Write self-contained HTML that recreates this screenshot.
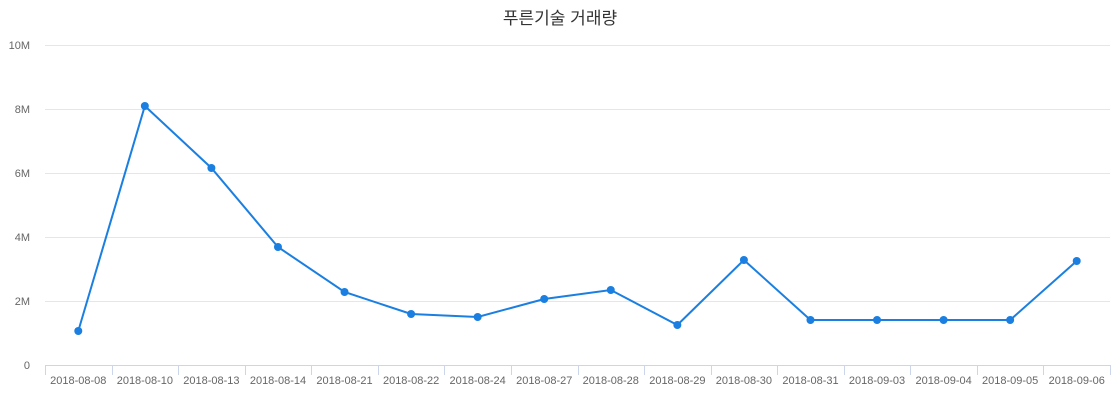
<!DOCTYPE html>
<html><head><meta charset="utf-8"><style>
body{margin:0;background:#fff;}
svg text{font-family:"Liberation Sans","Noto Sans CJK KR",sans-serif;}
</style></head><body>
<svg width="1120" height="400" xmlns="http://www.w3.org/2000/svg">
<text x="560" y="24" text-anchor="middle" font-size="17" fill="#333">푸른기술 거래량</text>
<g stroke="#e6e6e6" stroke-width="1">
<line x1="45" y1="45.5" x2="1110" y2="45.5"/>
<line x1="45" y1="109.5" x2="1110" y2="109.5"/>
<line x1="45" y1="173.5" x2="1110" y2="173.5"/>
<line x1="45" y1="237.5" x2="1110" y2="237.5"/>
<line x1="45" y1="301.5" x2="1110" y2="301.5"/>
</g>
<g font-size="11" fill="#666" text-anchor="end">
<text x="30" y="49">10M</text><text x="30" y="113">8M</text><text x="30" y="177">6M</text>
<text x="30" y="241">4M</text><text x="30" y="305">2M</text><text x="30" y="369">0</text>
</g>
<line x1="45" y1="365.5" x2="1110" y2="365.5" stroke="#ccd6eb"/>
<g id="ticks" stroke="#ccd6eb"></g>
<g id="labels" font-size="11" fill="#666" text-anchor="middle"></g>
<polyline id="ln" fill="none" stroke="#1a7fe0" stroke-width="2"/>
<g id="pts" fill="#1a7fe0"></g>
</svg>
<script>
var lab=["2018-08-08","2018-08-10","2018-08-13","2018-08-14","2018-08-21","2018-08-22","2018-08-24","2018-08-27","2018-08-28","2018-08-29","2018-08-30","2018-08-31","2018-09-03","2018-09-04","2018-09-05","2018-09-06"];
var ys=[331,106,168,247,292,314,317,299,290,325,260,320,320,320,320,261];
var ns="http://www.w3.org/2000/svg",w=(1110-45)/16,pts=[];
for(var i=0;i<=16;i++){var l=document.createElementNS(ns,"line");var x=Math.round(45+i*w)+0.5;l.setAttribute("x1",x);l.setAttribute("x2",x);l.setAttribute("y1",365);l.setAttribute("y2",375);document.getElementById("ticks").appendChild(l);}
for(var i=0;i<16;i++){var cx=45+w*(i+0.5);var t=document.createElementNS(ns,"text");t.setAttribute("x",cx);t.setAttribute("y",384);t.textContent=lab[i];document.getElementById("labels").appendChild(t);
pts.push(cx+","+ys[i]);var c=document.createElementNS(ns,"circle");c.setAttribute("cx",cx);c.setAttribute("cy",ys[i]);c.setAttribute("r",4);document.getElementById("pts").appendChild(c);}
document.getElementById("ln").setAttribute("points",pts.join(" "));
</script>
</body></html>
